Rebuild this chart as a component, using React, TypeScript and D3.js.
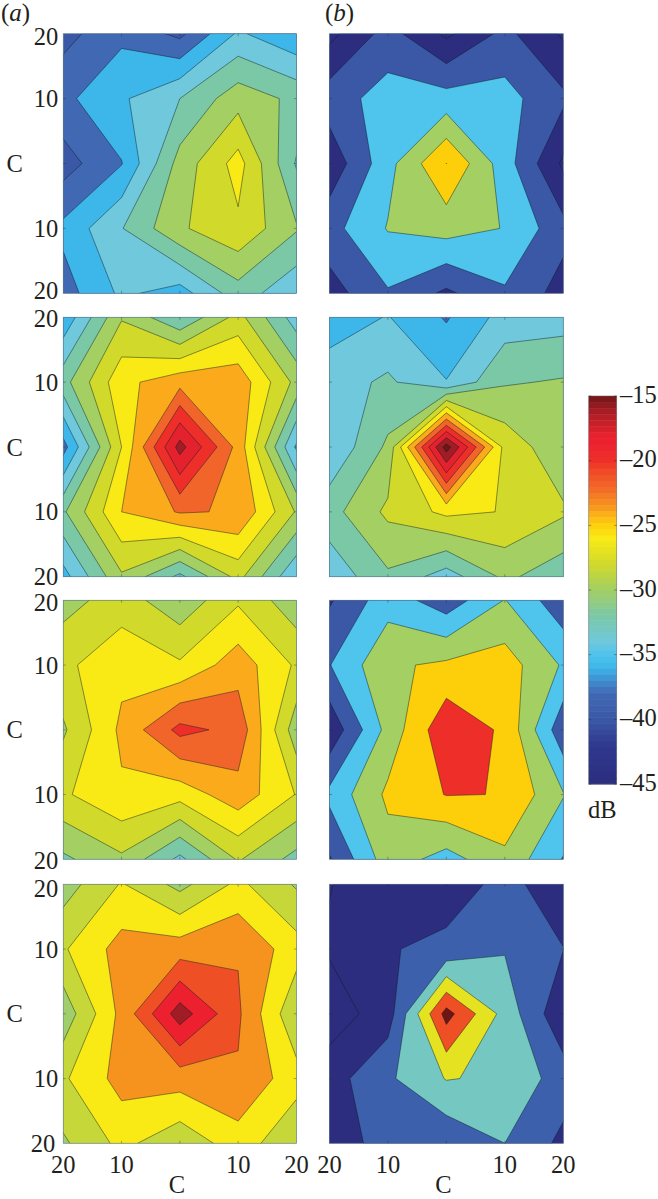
import React from "react";
import * as d3 from "d3";

// ---- tick labels ----
const xTickVals = [-20, -10, 0, 10, 20];
const xTickLabels = ["20", "10", "", "10", "20"];
const yTickLabels = ["20", "10", "", "10", "20"];
const barTicks = [-15, -20, -25, -30, -35, -40, -45];

// ---- colormap (dB, colour) ----
const cmapDb = [-45, -42, -40, -38, -37, -36, -35, -34, -32, -30, -28, -26, -25, -24, -23.5, -22, -21, -20, -18.5, -18, -16, -15];
const cmapCol = ["#2c2d7e", "#30398f", "#3a58a6", "#4068b3", "#3f90d0", "#3db6ea", "#4fc4ec", "#6fc8dc", "#7bc8a6", "#a3cf63", "#d1da2b", "#f9ea16", "#fdcf0a", "#fbaa1c", "#f6931e", "#f2652a", "#ef4f25", "#ee2f29", "#ed2030", "#e4222d", "#a01d25", "#6e1616"];

// ---- dB grids, 5 x 5 (row by row, top to bottom) ----
const a1Levels = [-40, -38, -36, -34, -32, -30, -28, -26];
const a1Values = [
  -38.7, -36.5, -38.5, -33.7, -35.7,
  -36.5, -34.3, -32, -28.8, -30.5,
  -38.9, -36.1, -29.2, -25.2, -32.2,
  -35.5, -32.1, -28.3, -26.4, -29.8,
  -36.9, -33.6, -34.9, -30.9, -33.6,
];
const a2Levels = [-38, -36, -34, -32, -30, -28, -26, -24, -22, -20, -18, -16];
const a2Values = [
  -35.5, -28.2, -31.8, -27.3, -33,
  -30.75, -24.6, -22.7, -22.7, -28.6,
  -36.8, -26, -15.2, -22.7, -34.3,
  -30.3, -24, -21.8, -22.2, -28.2,
  -34.8, -28.3, -32.5, -27.35, -33.85,
];
const a3Levels = [-34, -32, -30, -28, -26, -24, -22, -20];
const a3Values = [
  -28.8, -27, -29.4, -26.3, -29.3,
  -26.45, -24.6, -25.7, -22.9, -26.3,
  -28.3, -23.55, -19.4, -20.6, -29.2,
  -26.3, -24.34, -25.2, -22.8, -26.1,
  -30.4, -28.4, -32.5, -27.8, -30.7,
];
const a4Levels = [-30.2, -28.5, -26, -23.5, -21, -18.5, -16];
const a4Values = [
  -29.7, -25.8, -29.3, -25.4, -28.8,
  -26.3, -22.5, -22.2, -21.2, -24.94,
  -30.1, -22.75, -14.7, -20.6, -28.1,
  -26.37, -22.56, -22.35, -21.3, -25,
  -28.9, -25.3, -27.85, -24.65, -28.1,
];
const b1Levels = [-50, -45, -40, -35, -30, -25, -20];
const b1Values = [
  -46.5, -38, -46, -38.6, -45.7,
  -37.3, -33, -33, -33.2, -39,
  -43.5, -31.7, -19.95, -32.7, -45.9,
  -36.8, -29.7, -27.9, -30.2, -38.4,
  -42.2, -35.5, -41, -35.7, -42,
];
const b2Levels = [-38, -36, -34, -32, -30, -28, -26, -24, -22, -20, -18, -16, -14];
const b2Values = [
  -35, -33.9, -36.2, -33.2, -32.9,
  -32.9, -31.65, -33.9, -30.2, -29.8,
  -33.8, -29.6, -13, -26.7, -29.5,
  -30.77, -27.57, -25.5, -26.1, -27.7,
  -33.44, -30.35, -33, -29.55, -31.35,
];
const b3Levels = [-45, -40, -35, -30, -25, -20];
const b3Values = [
  -40.6, -32.1, -38, -29.8, -38.5,
  -35.2, -25.9, -24, -22.6, -30.6,
  -43.8, -28.3, -16.2, -20.9, -38.5,
  -33.7, -24, -19.8, -20.1, -29.7,
  -40.5, -27.3, -32, -26.3, -35.3,
];
const b4Levels = [-51, -45, -39, -33, -27, -21, -15];
const b4Values = [
  -45.2, -42, -41.8, -37.4, -42,
  -44.4, -39.4, -37.6, -33.4, -38.9,
  -48.1, -42, -12.7, -29.3, -43.8,
  -41.7, -34, -26.7, -28, -36,
  -41.8, -37, -37.8, -33, -40.5,
];

const panelValues = [[a1Values, b1Values], [a2Values, b2Values], [a3Values, b3Values], [a4Values, b4Values]];
const panelLevels = [[a1Levels, b1Levels], [a2Levels, b2Levels], [a3Levels, b3Levels], [a4Levels, b4Levels]];

// ---- layout ----
const colX: [number, number][] = [[63.3, 296.4], [329.4, 563.3]];
const rowY: [number, number][] = [[33.7, 293.3], [317.3, 576.7], [600.3, 859.3], [884.3, 1143.3]];
const labelNudgeTop = [2.5, 1, 2, 4];
const labelNudgeBottom = [-3, 0, 1, 0];
const bar = { x0: 588.7, x1: 616.7, y0: 396, y1: 784 };
const FONT = "'Liberation Serif', 'Times New Roman', serif";
const FS = 24.5;

const color = d3.scaleLinear<string>().domain(cmapDb).range(cmapCol).interpolate(d3.interpolateRgb).clamp(true);

function Panel({ id, values, levels, xr, yr, showY, showX, r }: any) {
  const sx = d3.scaleLinear().domain([0.5, 4.5]).range(xr);
  const sy = d3.scaleLinear().domain([0.5, 4.5]).range(yr);
  const tx = d3.scaleLinear().domain([-20, 20]).range(xr);
  const ty = d3.scaleLinear().domain([-20, 20]).range(yr);
  const contours = d3.contours().size([5, 5]).thresholds(levels)(values);
  const path = d3.geoPath(
    d3.geoTransform({
      point(this: any, x: number, y: number) {
        this.stream.point(sx(x), sy(y));
      },
    })
  );
  return (
    <g>
      <clipPath id={id}>
        <rect x={xr[0]} y={yr[0]} width={xr[1] - xr[0]} height={yr[1] - yr[0]} />
      </clipPath>
      <g clipPath={`url(#${id})`}>
        {contours.map((c: any, i: number) => (
          <path
            key={i}
            d={path(c) || ""}
            fill={color(c.value)}
            stroke={i === 0 ? "none" : "#0c1c24"}
            strokeOpacity={0.62}
            strokeWidth={0.75}
            strokeLinejoin="round"
          />
        ))}
      </g>
      <rect x={xr[0]} y={yr[0]} width={xr[1] - xr[0]} height={yr[1] - yr[0]} fill="none" stroke="#54707e" strokeOpacity={0.75} strokeWidth={0.8} />
      {xTickVals.slice(1, 4).map((v) => (
        <g key={v} stroke="#1c2c38" strokeOpacity={0.55} strokeWidth={0.7}>
          <line x1={tx(v)} x2={tx(v)} y1={yr[0]} y2={yr[0] + 2.5} />
          <line x1={tx(v)} x2={tx(v)} y1={yr[1]} y2={yr[1] - 2.5} />
          <line y1={ty(v)} y2={ty(v)} x1={xr[0]} x2={xr[0] + 2.5} />
          <line y1={ty(v)} y2={ty(v)} x1={xr[1]} x2={xr[1] - 2.5} />
        </g>
      ))}
      {showY &&
        xTickVals.map((v, i) => {
          if (!yTickLabels[i]) return null;
          const nudge = i === 0 ? labelNudgeTop[r] : i === 4 ? labelNudgeBottom[r] : 0;
          const dx = i === 4 && r === 3 ? -3 : 0;
          return (
            <text key={i} x={xr[0] - 5 + dx} y={ty(v) + 8.5 + nudge} textAnchor="end" fontFamily={FONT} fontSize={FS} fill="#231f20">
              {yTickLabels[i]}
            </text>
          );
        })}
      {showY && (
        <text x={6.5} y={(yr[0] + yr[1]) / 2 + 8.5} fontFamily={FONT} fontSize={FS} fill="#231f20">
          C
        </text>
      )}
      {showX &&
        xTickVals.map((v, i) =>
          xTickLabels[i] ? (
            <text key={i} x={tx(v)} y={yr[1] + 30} textAnchor="middle" fontFamily={FONT} fontSize={FS} fill="#231f20">
              {xTickLabels[i]}
            </text>
          ) : null
        )}
      {showX && (
        <text x={(xr[0] + xr[1]) / 2 - 3} y={yr[1] + 50} textAnchor="middle" fontFamily={FONT} fontSize={FS} fill="#231f20">
          C
        </text>
      )}
    </g>
  );
}

function ColorBar() {
  const n = 64;
  const sy = d3.scaleLinear().domain([-15, -45]).range([bar.y0, bar.y1]);
  const seg = d3.range(n).map((i) => -15 - (30 * i) / n);
  return (
    <g>
      {seg.map((v, i) => (
        <rect
          key={i}
          x={bar.x0}
          y={sy(v)}
          width={bar.x1 - bar.x0}
          height={sy(v - 30 / n) - sy(v) + 0.5}
          fill={color(v - 15 / n)}
        />
      ))}
      <rect x={bar.x0} y={bar.y0} width={bar.x1 - bar.x0} height={bar.y1 - bar.y0} fill="none" stroke="#56606a" strokeOpacity={0.7} strokeWidth={0.7} />
      {barTicks.map((v) => (
        <g key={v}>
          <line x1={bar.x0} x2={bar.x0 + 2.5} y1={sy(v)} y2={sy(v)} stroke="#222" strokeOpacity={0.6} strokeWidth={0.7} />
          <line x1={bar.x1} x2={bar.x1 - 2.5} y1={sy(v)} y2={sy(v)} stroke="#222" strokeOpacity={0.6} strokeWidth={0.7} />
          <text x={620} y={sy(v) + 6.5} fontFamily={FONT} fontSize={FS} fill="#231f20">
            {`\u2013${Math.abs(v)}`}
          </text>
        </g>
      ))}
      <text x={588} y={818} fontFamily={FONT} fontSize={FS} fill="#231f20">
        dB
      </text>
    </g>
  );
}

export default function App() {
  return (
    <svg width={658} height={1199} style={{ position: "absolute", left: 0, top: 0, background: "#fff" }}>
      <text x={1} y={21} fontFamily={FONT} fontSize={25} fill="#231f20">
        (<tspan fontStyle="italic">a</tspan>)
      </text>
      <text x={325} y={21} fontFamily={FONT} fontSize={25} fill="#231f20">
        (<tspan fontStyle="italic">b</tspan>)
      </text>
      {rowY.map((yr, r) =>
        colX.map((xr, c) => (
          <Panel
            key={`${r}-${c}`}
            id={`clip-${r}-${c}`}
            r={r}
            values={panelValues[r][c]}
            levels={panelLevels[r][c]}
            xr={xr}
            yr={yr}
            showY={c === 0}
            showX={r === rowY.length - 1}
          />
        ))
      )}
      <ColorBar />
    </svg>
  );
}
